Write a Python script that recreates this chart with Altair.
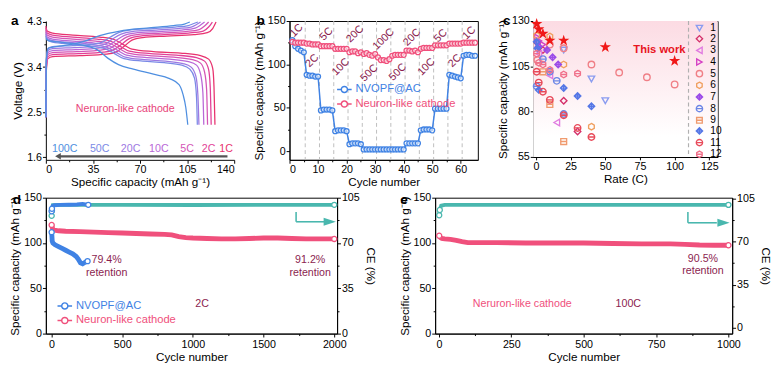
import altair as alt
import pandas as pd

FONT = "Liberation Sans"
DARK = "#8b1d4f"
PINK = "#f0507c"
BLUE = "#3f82e4"
TEAL = "#49b7ae"
GRAY = "#555555"
CAP_T = "Specific capacity (mAh g⁻¹)"

# ================= data: panel a =================
a_rates = ["1C", "2C", "5C", "10C", "20C", "50C", "100C"]
a_colors = ["#e8326e", "#e23f96", "#d455b6", "#b967d7", "#9c79e2", "#7b8ae6", "#4f8fe0"]
a_charge_cap = {
    "1C": [0, 0.3, 1.5, 5, 25, 45, 52, 58, 64, 72, 90, 110, 120, 124, 126.5],
    "2C": [0, 0.3, 1.5, 5, 24, 43, 50, 56, 62, 70, 88, 106, 117, 121, 123.8],
    "5C": [0, 0.3, 1.5, 5, 23, 41, 48, 54, 60, 68, 86, 104, 114, 118, 121],
    "10C": [0, 0.3, 1.5, 5, 22, 39, 46, 52, 58, 66, 84, 101, 111, 115, 118],
    "20C": [0, 0.3, 1.5, 5, 21, 37, 44, 50, 56, 64, 82, 98, 108, 112, 115],
    "50C": [0, 0.3, 1.5, 5, 20, 35, 42, 48, 54, 62, 80, 96, 106, 110, 113],
    "100C": [0, 0.3, 2, 10, 20, 30, 40, 55, 75, 95, 103, 107],
}
a_charge_v = {
    "1C": [2.40, 3.30, 3.57, 3.61, 3.63, 3.66, 3.70, 3.81, 3.94, 3.99, 4.02, 4.05, 4.09, 4.17, 4.30],
    "2C": [2.40, 3.34, 3.61, 3.65, 3.67, 3.70, 3.74, 3.85, 3.97, 4.02, 4.05, 4.08, 4.12, 4.20, 4.30],
    "5C": [2.40, 3.38, 3.65, 3.69, 3.71, 3.74, 3.78, 3.89, 4.00, 4.05, 4.08, 4.11, 4.15, 4.22, 4.30],
    "10C": [2.40, 3.42, 3.69, 3.73, 3.75, 3.78, 3.82, 3.93, 4.03, 4.08, 4.11, 4.14, 4.18, 4.24, 4.30],
    "20C": [2.40, 3.46, 3.73, 3.77, 3.79, 3.82, 3.86, 3.97, 4.06, 4.11, 4.14, 4.17, 4.20, 4.25, 4.30],
    "50C": [2.40, 3.50, 3.77, 3.81, 3.83, 3.86, 3.90, 4.00, 4.09, 4.14, 4.17, 4.20, 4.23, 4.27, 4.30],
    "100C": [2.40, 3.55, 3.78, 3.82, 3.86, 3.93, 4.03, 4.12, 4.18, 4.23, 4.26, 4.30],
}
a_dis_cap = {
    "1C": [0, 1, 5, 20, 40, 50, 57, 64, 80, 100, 115, 121, 124, 125, 125.7],
    "2C": [0, 1, 5, 20, 38, 48, 55, 62, 78, 97, 112, 118, 121, 122.2, 122.9],
    "5C": [0, 1, 5, 20, 37, 47, 54, 61, 77, 95, 109, 115, 118, 119.5, 120.2],
    "10C": [0, 1, 5, 20, 36, 46, 53, 60, 75, 92, 106, 112, 115, 116.7, 117.4],
    "20C": [0, 1, 5, 20, 35, 45, 52, 59, 73, 89, 102, 108, 111.5, 113, 113.8],
    "50C": [0, 1, 5, 20, 34, 44, 51, 58, 72, 88, 101, 107, 110.5, 112, 112.6],
    "100C": [0, 2, 10, 25, 38, 46, 54, 65, 80, 92, 99, 102, 104, 105.5],
}
a_dis_v = {
    "1C": [4.22, 4.12, 4.08, 4.04, 4.00, 3.96, 3.86, 3.76, 3.71, 3.68, 3.63, 3.56, 3.38, 3.00, 2.25],
    "2C": [4.18, 4.08, 4.04, 4.00, 3.96, 3.92, 3.82, 3.72, 3.67, 3.64, 3.59, 3.52, 3.35, 3.00, 2.25],
    "5C": [4.14, 4.04, 4.00, 3.96, 3.92, 3.88, 3.78, 3.68, 3.63, 3.60, 3.55, 3.48, 3.30, 2.95, 2.25],
    "10C": [4.10, 4.00, 3.96, 3.92, 3.88, 3.84, 3.74, 3.64, 3.59, 3.56, 3.51, 3.44, 3.26, 2.90, 2.25],
    "20C": [4.06, 3.97, 3.93, 3.89, 3.85, 3.80, 3.70, 3.60, 3.55, 3.52, 3.47, 3.40, 3.22, 2.85, 2.25],
    "50C": [4.02, 3.94, 3.90, 3.86, 3.82, 3.77, 3.67, 3.57, 3.52, 3.49, 3.44, 3.36, 3.18, 2.80, 2.25],
    "100C": [3.97, 3.93, 3.90, 3.85, 3.75, 3.58, 3.45, 3.36, 3.26, 3.17, 3.05, 2.85, 2.60, 2.25],
}
a_label_cap = [134, 121, 105, 84, 63, 40, 14]
a_label_v = 1.76
a_note = ("Neruron-like cathode", 59, 2.57)
a_arrow = (135, 9, 1.62)

# ================= data: panel b =================
b_cycles = list(range(1, 66))
b_nvopf = [128, 121, 118, 116, 114, 88, 87, 87, 86, 86, 47, 48, 48, 48, 47,
           23, 24, 24, 24, 23, 8, 9, 9, 9, 8, 2, 2, 2, 2, 2, 2, 2, 2, 2, 2,
           2, 2, 2, 2, 2, 9, 9, 9, 9, 9, 24, 25, 25, 25, 24, 49, 49, 49, 49, 49,
           88, 87, 86, 85, 84, 110, 111, 111, 110, 110]
b_neuron = [126, 125, 125, 125, 125, 124, 124, 123, 123, 123, 121, 121, 121, 121, 121,
            118, 118, 118, 118, 118, 114, 115, 115, 113, 114, 112, 113, 111, 110, 112,
            108, 105, 105, 104, 106, 110, 111, 111, 111, 111, 116, 116, 115, 116, 114,
            118, 119, 119, 119, 119, 122, 122, 122, 122, 122, 124, 124, 124, 124, 124,
            125, 125, 125, 125, 125]
b_series = ["NVOPF@AC", "Neuron-like cathode"]
b_dividers = [5.5, 10.5, 15.5, 20.5, 25.5, 30.5, 35.5, 40.5, 45.5, 50.5, 55.5, 60.5]
b_rate_text = ["1C", "2C", "5C", "10C", "20C", "50C", "100C", "50C", "20C", "10C", "5C", "2C", "1C"]
b_rate_x = [2.5, 8, 13, 18, 23, 28, 33, 38, 43, 48, 53, 58, 63]
b_rate_y = [139, 104, 135, 97, 135, 90, 129, 91, 131, 97, 133, 104, 136]

# ================= data: panel c =================
c_names = [str(i) for i in range(1, 13)]
c_colors = ["#8a9cf0", "#d42f6a", "#e07be0", "#d53fc4", "#f07f86", "#f0a060",
            "#9b4be8", "#6c87e6", "#f09a6e", "#5577e6", "#e84a5a", "#f0708a"]
c_shapes = [
    "triangle-down", "diamond", "triangle-left", "triangle-right", "circle",
    "M0,-1L0.87,-0.5L0.87,0.5L0,1L-0.87,0.5L-0.87,-0.5Z",
    "M0,-1L1,0L0,1L-1,0ZM0,-1L0,1M-1,0L1,0",
    "M-1,0A1,1,0,1,1,1,0A1,1,0,1,1,-1,0ZM-1,0L1,0",
    "M-0.9,-0.9L0.9,-0.9L0.9,0.9L-0.9,0.9ZM-0.9,0L0.9,0",
    "M0,-1L1,0L0,1L-1,0ZM0,-1L0,1M-1,0L1,0",
    "M-1,0A1,1,0,1,1,1,0A1,1,0,1,1,-1,0ZM-1,0L1,0",
    "M0,-1L0.87,-0.5L0.87,0.5L0,1L-0.87,0.5L-0.87,-0.5ZM-0.87,0L0.87,0",
]
c_rate = {
    "1": [20, 40, 50], "2": [1, 5, 20, 30], "3": [2, 10, 15], "4": [1, 2, 5],
    "5": [1, 10, 20, 40, 60, 80, 100], "6": [0.5, 10, 20, 40], "7": [2, 8, 12, 16],
    "8": [0.5, 5, 10, 15, 20], "9": [5, 10, 20], "10": [0.5, 1, 2, 20, 30, 40],
    "11": [0.5, 2, 5, 10, 20, 30, 40], "12": [0.5, 2, 5, 10, 20, 30],
}
c_cap = {
    "1": [114, 98, 86], "2": [118, 114, 86, 69], "3": [112, 100, 74], "4": [121, 119, 117],
    "5": [108.5, 117, 115, 106, 101.6, 99, 95], "6": [122, 121.5, 106, 71.7],
    "7": [116, 114, 110, 106], "8": [94, 109, 102, 97, 78.7], "9": [102, 84, 63.5],
    "10": [118.5, 115, 92, 93, 88.6, 83], "11": [102, 96, 91, 86.5, 78, 71, 66],
    "12": [112, 107, 106, 103, 100.5, 101],
}
c_star_rate = [0.5, 2, 5, 10, 20, 50, 100]
c_star_cap = [128.4, 125.5, 123, 119.2, 119.2, 115.6, 108]
c_divider = [110]
c_note = ("This work", 89, 113.8)

# ================= data: panel d =================
d_nv_cyc = [1, 5, 10, 25, 50, 75, 100, 125, 150, 175, 190, 205, 220, 240, 255]
d_nv_cap = [112, 102, 100, 98, 96, 94, 92, 90, 88, 85, 82, 78, 77, 79, 80]
d_nv_ce_cyc = [1, 3, 8, 20, 60, 120, 180, 220, 260]
d_nv_ce = [94.5, 96.5, 98.6, 99.2, 99.5, 99.6, 99.8, 100.2, 99.5]
d_ne_cyc = [1, 10, 50, 100, 200, 300, 400, 500, 600, 700, 800, 850, 900, 950, 1000,
            1100, 1200, 1300, 1400, 1500, 1600, 1700, 1800, 1900, 2000]
d_ne_cap = [120, 114.5, 113.5, 113, 112.5, 112, 111.5, 111, 110.5, 110, 109.5, 109, 107,
            106, 105.5, 105, 104.5, 104.5, 105, 105.5, 105.5, 105, 104.5, 104.5, 104.5]
d_ne_ce_cyc = [1, 3, 10, 100, 500, 1000, 1500, 2000]
d_ne_ce = [91, 95, 99.3, 99.5, 99.5, 99.4, 99.5, 99.5]
d_notes = [("79.4%", 390, 81.7), ("retention", 390, 67), ("91.2%", 1830, 81.7),
           ("retention", 1830, 67), ("2C", 1065, 33)]
d_arrow = (1730, 94, 86.4, 1945, 1968)

# ================= data: panel e =================
e_cyc = [1, 5, 10, 20, 40, 60, 80, 100, 150, 200, 300, 400, 500, 600, 700, 800, 850,
         900, 950, 1000]
e_cap = [108, 106, 105, 104.5, 104, 103, 101.5, 100.5, 100.5, 100.5, 100, 100, 100,
         99.5, 99, 99, 98.5, 97.8, 97.5, 97.5]
e_ce_cyc = [1, 3, 8, 20, 100, 500, 1000]
e_ce = [91.3, 95.6, 99, 99.7, 99.7, 99.7, 99.7]
e_notes = [("90.5%", 912, 82, DARK), ("retention", 912, 69, DARK),
           ("100C", 654, 33, DARK), ("Neruron-like cathode", 288, 33, PINK)]
e_arrow = (860, 94, 85.2, 960, 983)

LEGSYM = "M-1,0L-0.42,0M0.42,0L1,0M0.42,0A0.42,0.42,0,1,1,-0.42,0A0.42,0.42,0,1,1,0.42,0"
ARROWHEAD = "M-1,-0.65L1,0L-1,0.65Z"
STAR = ("M0,-1L0.2245,-0.309L0.951,-0.309L0.363,0.118L0.588,0.809L0,0.382"
        "L-0.588,0.809L-0.363,0.118L-0.951,-0.309L-0.2245,-0.309Z")
LABEL_EXPR = {"expr": f"datum.label == 'NVOPF@AC' ? '{BLUE}' : '{PINK}'"}


def axis(**kw):
    base = dict(grid=False, domainColor="#000", tickColor="#000", labelColor="#000",
                titleColor="#000", labelFontSize=11, titleFontSize=12,
                titleFontWeight="normal", tickSize=3, labelPadding=1, titlePadding=2,
                labelFont=FONT, titleFont=FONT)
    base.update(kw)
    return alt.Axis(**base)


def axis_minor(v0, step, count, **kw):
    """Axis with major ticks every `step` from v0 and unlabelled minor ticks in between."""
    vals = [round(v0 + k * step / 2, 4) for k in range(2 * count - 1)]
    test = (f"abs((datum.value - ({v0})) / {step} - "
            f"round((datum.value - ({v0})) / {step})) < 0.01")
    return axis(values=vals, labelExpr=f"{test} ? datum.label : ''",
                tickSize={"condition": {"test": test, "value": 3.5}, "value": 2}, **kw)


def letter(t, dx, dy):
    """Bold panel letter placed just outside the top-left corner of the plot."""
    return alt.Chart(pd.DataFrame({"t": [t]})).mark_text(
        fontSize=14, fontWeight="bold", font=FONT, color="#000", align="left",
        baseline="middle").encode(x=alt.value(dx), y=alt.value(dy), text="t:N")


# ================= panel a =================
rows = []
for r in a_rates:
    for i, (c, v) in enumerate(zip(a_charge_cap[r], a_charge_v[r])):
        rows.append({"rate_a": r, "curve": r + "c", "i": i, "cap": c, "v": v})
    for i, (c, v) in enumerate(zip(a_dis_cap[r], a_dis_v[r])):
        rows.append({"rate_a": r, "curve": r + "d", "i": i, "cap": c, "v": v})
df_a = pd.DataFrame(rows)

xa = alt.X("cap:Q", scale=alt.Scale(domain=[0, 140], nice=False),
           axis=axis_minor(0, 35, 5, title=CAP_T))
ya = alt.Y("v:Q", scale=alt.Scale(domain=[1.55, 4.32], nice=False, zero=False),
           axis=axis_minor(1.6, 0.9, 4, format=".1f", title="Voltage (V)"))
ca = alt.Color("rate_a:N", scale=alt.Scale(domain=a_rates, range=a_colors), legend=None)

a_lines = alt.Chart(df_a).mark_line(strokeWidth=1.3, interpolate="monotone").encode(
    x=xa, y=ya, color=ca, detail="curve:N", order="i:Q")
a_lab = alt.Chart(pd.DataFrame({"rate_a": a_rates, "cap": a_label_cap,
                                "v": [a_label_v] * len(a_rates)})).mark_text(
    fontSize=11, font=FONT).encode(x=xa, y=ya, text="rate_a:N", color=ca)
a_txt = alt.Chart(pd.DataFrame({"t": [a_note[0]], "cap": [a_note[1]], "v": [a_note[2]]})).mark_text(
    fontSize=11, font=FONT, color="#e8457a").encode(x=xa, y=ya, text="t:N")
a_arr_df = pd.DataFrame({"cap": [a_arrow[0]], "cap2": [a_arrow[1]], "v": [a_arrow[2]]})
a_arr = alt.Chart(a_arr_df).mark_rule(strokeWidth=2.2, color=GRAY).encode(x=xa, x2="cap2:Q", y=ya)
a_head = alt.Chart(pd.DataFrame({"cap": [a_arrow[1]], "v": [a_arrow[2]]})).mark_point(
    shape="triangle-left", filled=True, size=45, color=GRAY, opacity=1).encode(x=xa, y=ya)
panel_a = alt.layer(a_lines, a_lab, a_txt, a_arr, a_head, letter("a", -36, 0)).properties(
    width=194, height=143, view=alt.ViewBackground(stroke="transparent"))

# ================= panel b =================
df_b = pd.DataFrame({
    "cycle": b_cycles * 2,
    "cap": b_nvopf + b_neuron,
    "series_b": [b_series[0]] * len(b_cycles) + [b_series[1]] * len(b_cycles),
})
xb = alt.X("cycle:Q", scale=alt.Scale(domain=[0, 66], nice=False),
           axis=axis_minor(0, 10, 7, title="Cycle number"))
yb = alt.Y("cap:Q", scale=alt.Scale(domain=[-10, 150], nice=False),
           axis=axis_minor(0, 50, 4, title=CAP_T))
leg_b = alt.Legend(orient="none", legendX=48, legendY=62, title=None, symbolType=LEGSYM,
                   symbolSize=225, symbolStrokeWidth=1.5, labelFontSize=11.5,
                   labelColor=LABEL_EXPR, rowPadding=-2, labelOffset=3, labelFont=FONT)
cb = alt.Color("series_b:N", scale=alt.Scale(domain=b_series, range=[BLUE, PINK]), legend=leg_b)
b_div = alt.Chart(pd.DataFrame({"cycle": b_dividers})).mark_rule(
    strokeDash=[4, 3], color="#bdbdbd", strokeWidth=1).encode(x=xb)
b_line = alt.Chart(df_b).mark_line(strokeWidth=1.5).encode(x=xb, y=yb, color=cb)
b_pt = alt.Chart(df_b).mark_point(filled=False, fill="white", fillOpacity=0.6, size=26,
                                  strokeWidth=1.3, opacity=1).encode(x=xb, y=yb, color=cb)
b_txt = alt.Chart(pd.DataFrame({"cycle": b_rate_x, "cap": b_rate_y, "t": b_rate_text})).mark_text(
    angle=315, fontSize=11, font=FONT, color=DARK).encode(x=xb, y=yb, text="t:N")
panel_b = alt.layer(b_div, b_line, b_pt, b_txt, letter("b", -34, 0)).properties(
    width=194, height=143)

# ================= panel c =================
rows = []
for n in c_names:
    for r, v in zip(c_rate[n], c_cap[n]):
        rows.append({"series_c": n, "rate": r, "cap": v})
df_c = pd.DataFrame(rows)
xc = alt.X("rate:Q", scale=alt.Scale(domain=[-2, 131], nice=False),
           axis=axis(values=[0, 25, 50, 75, 100, 125], title="Rate (C)"))
yc = alt.Y("cap:Q", scale=alt.Scale(domain=[55, 130], nice=False, zero=False),
           axis=axis(values=[55, 80, 105, 130], title=CAP_T))
leg_c = alt.Legend(orient="none", legendX=166, legendY=2, title=None, symbolSize=42,
                   symbolStrokeWidth=1.4, labelFontSize=10.5, rowPadding=-3.5,
                   labelOffset=6, labelFont=FONT, labelColor="#000")
cc = alt.Color("series_c:N", scale=alt.Scale(domain=c_names, range=c_colors), legend=leg_c)
sc = alt.Shape("series_c:N", scale=alt.Scale(domain=c_names, range=c_shapes), legend=leg_c)
c_bg = alt.Chart(pd.DataFrame({"k": [0]})).mark_rect(
    fill=alt.LinearGradient(gradient="linear", x1=0, x2=0, y1=0, y2=1,
                            stops=[alt.GradientStop(color="#fcdbe3", offset=0),
                                   alt.GradientStop(color="#ffffff", offset=0.85)])
).encode(x=alt.value(0), x2=alt.value("width"), y=alt.value(0), y2=alt.value("height"))
c_div = alt.Chart(pd.DataFrame({"rate": c_divider})).mark_rule(
    strokeDash=[4, 3], color="#b0b0b0", strokeWidth=1.2).encode(x=xc)
c_pts = alt.Chart(df_c).mark_point(filled=False, size=45, strokeWidth=1.4, opacity=1).encode(
    x=xc, y=yc, color=cc, shape=sc)
c_star = alt.Chart(pd.DataFrame({"rate": c_star_rate, "cap": c_star_cap})).mark_point(
    shape=STAR, filled=True, size=150, color="#f01818", opacity=1).encode(x=xc, y=yc)
c_txt = alt.Chart(pd.DataFrame({"t": [c_note[0]], "rate": [c_note[1]], "cap": [c_note[2]]})).mark_text(
    fontSize=11.5, fontWeight="bold", font=FONT, color="#e8141e").encode(x=xc, y=yc, text="t:N")
panel_c = alt.layer(c_bg, c_div, c_pts, c_star, c_txt, letter("c", -31, 0)).properties(
    width=190, height=140)


# ================= panels d and e =================
def long_cycle_panel(name, series_list, caps, ces, xdom, xstep, ce_dom, notes, arrow,
                     width, height, legend, dx):
    field = "series_" + name
    x = alt.X("cycle:Q", scale=alt.Scale(domain=xdom, nice=False),
              axis=axis_minor(0, xstep, 5, title="Cycle number", format="d", labelPadding=2))
    y_cap = alt.Y("cap:Q", scale=alt.Scale(domain=[0, 150], nice=False),
                  axis=axis_minor(0, 50, 4, title=CAP_T))
    y_cap_n = alt.Y("cap:Q", scale=alt.Scale(domain=[0, 150], nice=False), axis=None)
    y_ce = alt.Y("ce:Q", scale=alt.Scale(domain=ce_dom, nice=False, zero=False),
                 axis=axis_minor(0, 35, 4, title="CE (%)", orient="right", titlePadding=4))
    y_ce_n = alt.Y("ce:Q", scale=alt.Scale(domain=ce_dom, nice=False, zero=False), axis=None)
    names = [s[0] for s in series_list]
    cols = [s[1] for s in series_list]
    col = alt.Color(field + ":N", scale=alt.Scale(domain=names, range=cols), legend=legend)
    cap_rows = []
    for (nm, _), (cyc, cp) in zip(series_list, caps):
        for c, v in zip(cyc, cp):
            cap_rows.append({field: nm, "cycle": c, "cap": v,
                             "last": c == cyc[-1], "first": c == cyc[0]})
    df_cap = pd.DataFrame(cap_rows)
    ce_layers = []
    for k, (cyc, ce, colr) in enumerate(ces):
        df_ce = pd.DataFrame({"cycle": cyc, "ce": ce})
        yy = y_ce if k == 0 else y_ce_n
        ce_layers.append(alt.Chart(df_ce).mark_line(strokeWidth=4, color=colr).encode(x=x, y=yy))
        ce_layers.append(alt.Chart(df_ce).transform_filter(
            f"datum.cycle < 4 || datum.cycle == {cyc[-1]}").mark_point(
            filled=False, fill="white", size=28, strokeWidth=1.3, color=colr,
            opacity=1).encode(x=x, y=y_ce_n))
    cap_line = alt.Chart(df_cap).mark_line(strokeWidth=5).encode(
        x=x, y=y_cap, color=col, detail=field + ":N")
    cap_pts = alt.Chart(df_cap).transform_filter("datum.last || datum.first").mark_point(
        filled=False, fill="white", size=28, strokeWidth=1.3, opacity=1).encode(
        x=x, y=y_cap_n, color=col)
    note_df = pd.DataFrame({"t": [n[0] for n in notes], "cycle": [n[1] for n in notes],
                            "cap": [n[2] for n in notes], "c": [n[3] for n in notes]})
    note = alt.Chart(note_df).mark_text(fontSize=11, font=FONT).encode(
        x=x, y=y_cap_n, text="t:N", color=alt.Color("c:N", scale=None))
    ax0, ay0, ay1, ax1, axh = arrow
    arr_v = alt.Chart(pd.DataFrame({"cycle": [ax0], "ce": [ay0], "ce2": [ay1]})).mark_rule(
        color=TEAL, strokeWidth=1.6).encode(x=x, y=y_ce_n, y2="ce2:Q")
    arr_h = alt.Chart(pd.DataFrame({"cycle": [ax0], "cycle2": [ax1], "ce": [ay1]})).mark_rule(
        color=TEAL, strokeWidth=1.6).encode(x=x, x2="cycle2:Q", y=y_ce_n)
    arr_hd = alt.Chart(pd.DataFrame({"cycle": [axh], "ce": [ay1]})).mark_point(
        shape=ARROWHEAD, filled=True, size=160, color=TEAL, opacity=1).encode(x=x, y=y_ce_n)
    layers = [cap_line] + ce_layers + [cap_pts, note, arr_v, arr_h, arr_hd, letter(name, dx, 2)]
    return alt.layer(*layers).resolve_scale(y="independent").properties(
        width=width, height=height)


leg_d = alt.Legend(orient="none", legendX=11, legendY=103, title=None, symbolType=LEGSYM,
                   symbolSize=225, symbolStrokeWidth=1.5, labelFontSize=11.5,
                   labelColor=LABEL_EXPR, rowPadding=-1, labelOffset=3, labelFont=FONT)
panel_d = long_cycle_panel(
    "d", [("NVOPF@AC", BLUE), ("Neuron-like cathode", PINK)],
    [(d_nv_cyc, d_nv_cap), (d_ne_cyc, d_ne_cap)],
    [(d_ne_ce_cyc, d_ne_ce, TEAL), (d_nv_ce_cyc, d_nv_ce, BLUE)],
    [-40, 2020], 500, [0, 105],
    [(t, x, y, DARK) for t, x, y in d_notes], d_arrow, 300, 140, leg_d, -34)
panel_e = long_cycle_panel(
    "e", [("Neuron-like cathode", PINK)], [(e_cyc, e_cap)],
    [(e_ce_cyc, e_ce, TEAL)],
    [-13, 1013], 250, [-4.5, 105.5],
    e_notes, e_arrow, 306, 140, None, -36)

top = alt.hconcat(panel_a, panel_b, panel_c, spacing=57, bounds="flush").resolve_scale(
    color="independent", shape="independent")
bottom = alt.hconcat(panel_d, panel_e, spacing=101, bounds="flush").resolve_scale(
    color="independent")
chart = alt.vconcat(top, bottom, spacing=3).resolve_scale(
    color="independent", shape="independent").properties(padding=0).configure(
    font=FONT).configure_view(stroke="#000", strokeWidth=1)

chart.save("out.html", embed_options={"renderer": "svg", "actions": False})
